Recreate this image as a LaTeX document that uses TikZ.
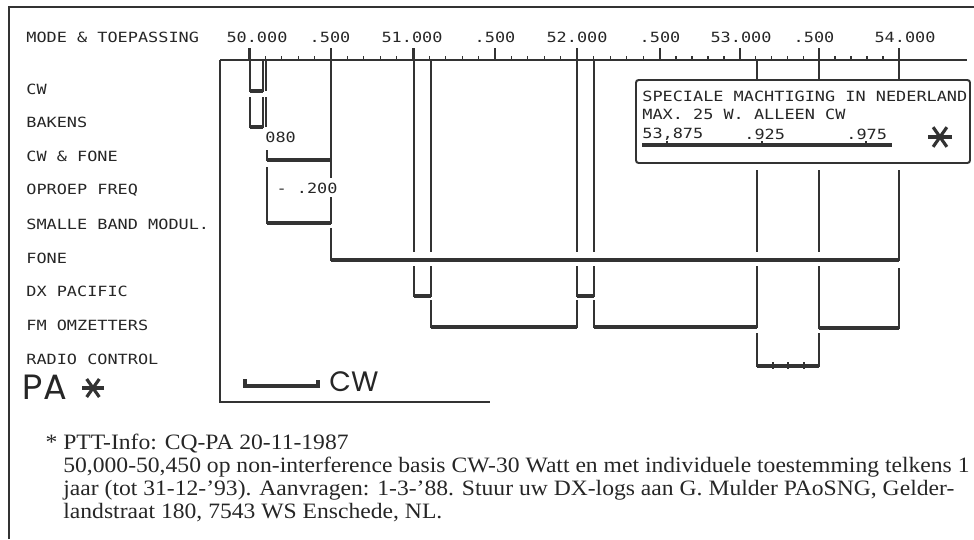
\documentclass[tikz,border=0pt]{standalone}
\usepackage{fontspec}
\newfontfamily\typefont[FakeStretch=1.2]{DejaVu Sans Mono}
\newfontfamily\notefont[FakeStretch=1.075]{Liberation Serif}
\newfontfamily\handfont{Poppins}
\begin{document}
\begin{tikzpicture}[
  x=0.02cm, y=-0.02cm,
  font=\typefont\fontsize{8}{10}\selectfont,
  band/.style={draw=black!80, line width=1.1pt},
  floor/.style={draw=black!80, line width=1.8pt},
  tick/.style={draw=black!80, line width=0.7pt},
  lbl/.style={anchor=west, inner sep=0pt, text=black!85},
  freq/.style={inner sep=0pt, text=black!85},
  note/.style={anchor=base west, inner sep=0pt, text=black!85, font=\notefont\fontsize{12.5}{14}\selectfont},
  hand/.style={inner sep=0pt, text=black!85, font=\handfont},
]
\useasboundingbox (0,0) rectangle (974,539);

% --- Frames ---
\draw[band] (9,539) -- (9,7) -- (974,7);
\draw[band] (220,60) -- (220,402) -- (490,402);

% --- Header and frequency scale ---
\node[lbl] (mode) at (26,37) {MODE \& TOEPASSING};
\foreach \x/\f [count=\i] in {257/50.000, 330/.500, 412/51.000, 495/.500, 577/52.000,
                               660/.500, 741/53.000, 814/.500, 905/54.000} {
  \node[freq] (mhz\i) at (\x,37) {\f};
}
\draw[band] (220,60) -- (967,60);
\foreach \x in {249,331,413,495,577,660,740,819,899} {
  \draw[band] (\x,48) -- (\x,60);
}
% four small ticks in every half MHz
\foreach \a/\b in {249/331,331/413,413/495,495/577,577/660,660/740,740/819,819/899} {
  \foreach \t in {0.2,0.4,0.6,0.8} {
    \draw[tick] ({\a+\t*(\b-\a)},56) -- ++(0,4);
  }
}

% --- Row labels ---
\foreach \txt [count=\i from 0] in {CW,BAKENS,CW \& FONE,OPROEP FREQ,SMALLE BAND MODUL.,
                                    FONE,DX PACIFIC,FM OMZETTERS,RADIO CONTROL} {
  \node[lbl] (row\i) at (26,{89+33.8*\i}) {\txt};
}

% --- Band limits running down from the scale ---
\draw[band] (266,60) -- (266,91);
\draw[band] (266,97) -- (266,127);
\draw[band] (331,48) -- (331,178);
\foreach \x/\t in {414/48, 431/60, 577/48, 594/60} {
  \draw[band] (\x,\t) -- (\x,252);
}
\foreach \x in {757,819,899} {
  \draw[band] (\x,60) -- (\x,80);
}
\foreach \x in {757,819} {
  \draw[band] (\x,170) -- (\x,252);
}

% --- Brackets: left x / left top / right x / right top / bottom ---
\foreach \xa/\ta/\xb/\tb/\yb in {250/48/263/60/91, 250/97/263/97/127, 267/150/331/160/160,
    267/167/331/197/223, 331/228/899/170/260, 414/266/431/266/296, 577/266/594/266/296,
    431/300/577/300/327, 594/300/757/266/327, 819/266/899/268/328, 757/333/819/333/366} {
  \draw[band] (\xa,\ta) -- (\xa,\yb) -- (\xb,\yb) -- (\xb,\tb);
  \draw[floor] (\xa,\yb) -- (\xb,\yb);
}
\foreach \x in {773,788,804} {
  \draw[tick] (\x,362) -- (\x,369);
}
\node[lbl] (low) at (265,137) {080};
\node[freq] (high) at (307,188) {- .200};

% --- Special permission box ---
\draw[band, rounded corners=1.5pt] (636,80) rectangle (970,163);
\node[lbl] (spec) at (642,96) {SPECIALE MACHTIGING IN NEDERLAND};
\node[lbl] (maxw) at (642,114) {MAX. 25 W. ALLEEN CW};
\node[lbl] (f875) at (642,134) {53,875};
\node[lbl] (f925) at (744,134) {.925};
\node[lbl] (f975) at (846,134) {.975};
\draw[floor] (642,145) -- (892,145);
\foreach \x in {667,762,866} {
  \draw[tick] (\x,141) -- (\x,145);
}
\foreach \a in {0,55,125} {
  \draw[floor] (940,137) +(\a:12) -- +(\a+180:12);
}

% --- Hand written legend ---
\node[hand, font=\handfont\fontsize{20}{20}\selectfont] (pa) at (45,387) {PA};
\foreach \a in {0,55,125} {
  \draw[floor] (93,388) +(\a:11) -- +(\a+180:11);
}
\draw[floor] (245,379) -- (245,386) -- (318,386) -- (318,380);
\node[hand, font=\handfont\fontsize{16}{16}\selectfont] (cwhand) at (354,382) {CW};

% --- Footnote ---
\node[note] (note1) at (63,449) {\llap{*\ }PTT-Info: CQ-PA 20-11-1987};
\node[note] (note2) at (63,472) {50,000-50,450 op non-interference basis CW-30 Watt en met individuele toestemming telkens 1};
\node[note] (note3) at (63,495) {jaar (tot 31-12-’93). Aanvragen: 1-3-’88. Stuur uw DX-logs aan G. Mulder PAoSNG, Gelder-};
\node[note] (note4) at (63,518) {landstraat 180, 7543 WS Enschede, NL.};

\end{tikzpicture}
\end{document}
